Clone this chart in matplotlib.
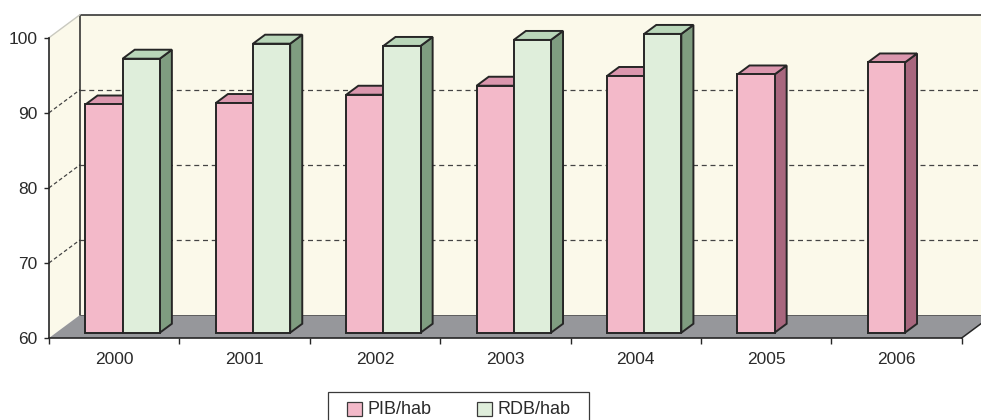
import numpy as np
import matplotlib.pyplot as plt
from matplotlib.patches import Polygon, Rectangle

plt.rcParams['font.family'] = ['Liberation Sans', 'DejaVu Sans']

years = ['2000', '2001', '2002', '2003', '2004', '2005', '2006']
pib_hab = [90.4, 90.6, 91.7, 92.9, 94.2, 94.4, 96.0]
rdb_hab = [96.5, 98.5, 98.2, 99.0, 99.8, np.nan, np.nan]
series_names = ['PIB/hab', 'RDB/hab']

y_min, y_max = 60, 100
y_ticks = [60, 70, 80, 90, 100]

# colours: front, top, side
pink = ('#f3b9c9', '#db97ae', '#a8677e')
green = ('#dfeedb', '#b9d6b9', '#7f9d80')
wall_col = '#fbf9ea'
floor_col = '#96979b'
edge_col = '#262626'
text_col = '#2a2a2a'

W, H = 981, 420
fig = plt.figure(figsize=(W / 100, H / 100), dpi=100)
ax = fig.add_axes([49 / W, 1 - 338 / H, 912.7 / W, 300.3 / H])
ax.set_xlim(0, len(years))
ax.set_ylim(y_min, y_max)
ax.patch.set_visible(False)

# depth offset of the back wall, in data units
DX = 31 / 130.4
DY = 23 / 7.5075
n = len(years)


def shift(pts, d):
    return [(x + d * DX, y + d * DY) for x, y in pts]


def poly(pts, fc, ec='none', lw=0, z=1):
    p = Polygon(pts, closed=True, facecolor=fc, edgecolor=ec, linewidth=lw,
                zorder=z, clip_on=False, joinstyle='miter')
    ax.add_patch(p)
    return p


# back wall
poly([(DX, y_min + DY), (n + DX, y_min + DY), (n + DX, y_max + DY), (DX, y_max + DY)],
     wall_col, z=0.5)
ax.plot([DX, DX, n + DX], [y_min + DY, y_max + DY, y_max + DY], color=edge_col,
        lw=1.1, clip_on=False, zorder=0.9)

# side wall
poly([(0, y_min), (DX, y_min + DY), (DX, y_max + DY), (0, y_max)], wall_col, z=0.5)
ax.plot([0, DX], [y_max, y_max + DY], color='#c9c9c0', lw=1.0, clip_on=False, zorder=0.9)

# gridlines on both walls
for v in y_ticks[1:-1]:
    ax.plot([DX, n + DX], [v + DY, v + DY], color='#444444', lw=0.9,
            ls=(0, (4, 3)), clip_on=False, zorder=0.8)
    ax.plot([0, DX], [v, v + DY], color='#444444', lw=0.9,
            ls=(0, (3, 2)), clip_on=False, zorder=0.8)

# floor
poly([(0, y_min), (n, y_min), (n + DX, y_min + DY), (DX, y_min + DY)], floor_col, z=0.95)
ax.plot([DX, n + DX], [y_min + DY, y_min + DY], color='#555555', lw=0.6,
        clip_on=False, zorder=0.96)
ax.plot([n, n + DX], [y_min, y_min + DY], color=edge_col, lw=1.1,
        clip_on=False, zorder=0.97)

# 3D bars
d0, d1 = 0.23, 0.62
bw = 0.285
center = 0.51


def bar3d(x0, v, cols, z):
    base = y_min
    ddx, ddy = (d1 - d0) * DX, (d1 - d0) * DY
    front = [(x0, base), (x0 + bw, base), (x0 + bw, v), (x0, v)]
    top = [(x0, v), (x0 + bw, v), (x0 + bw + ddx, v + ddy), (x0 + ddx, v + ddy)]
    side = [(x0 + bw, base), (x0 + bw + ddx, base + ddy),
            (x0 + bw + ddx, v + ddy), (x0 + bw, v)]
    poly(shift(side, d0), cols[2], edge_col, 1.4, z)
    poly(shift(top, d0), cols[1], edge_col, 1.4, z)
    poly(shift(front, d0), cols[0], edge_col, 1.4, z)


z = 2
for i in range(n):
    for j, (vals, cols) in enumerate([(pib_hab, pink), (rdb_hab, green)]):
        v = vals[i]
        if np.isnan(v):
            continue
        bar3d(i + center - bw + j * bw, v, cols, z)
        z += 0.01

# axes and ticks
for s in ['top', 'right']:
    ax.spines[s].set_visible(False)
for s in ['left', 'bottom']:
    ax.spines[s].set_color(edge_col)
    ax.spines[s].set_linewidth(1.2)

ax.set_yticks(y_ticks)
ax.set_yticklabels([str(t) for t in y_ticks])
ax.tick_params(axis='y', direction='out', length=3.5, width=1.0, color=edge_col,
               pad=5, labelsize=12.5, labelcolor=text_col)
ax.set_xticks(np.arange(n + 1))
ax.set_xticklabels([])
ax.set_xticks(np.arange(n) + 0.5, minor=True)
ax.set_xticklabels(years, minor=True)
ax.tick_params(axis='x', which='major', direction='out', length=4.5, width=1.0,
               color=edge_col)
ax.tick_params(axis='x', which='minor', length=0, pad=10, labelsize=12.5,
               labelcolor=text_col)


# legend box at the bottom, partly below the figure edge
def fx(p):
    return p / W


def fy(p):
    return 1 - p / H


fig.patches.append(Rectangle((fx(328.3), fy(430)), fx(588.7) - fx(328.3),
                             fy(392.3) - fy(430), transform=fig.transFigure,
                             facecolor='white', edgecolor='#3a3a3a', linewidth=0.9))
for name, cols, px0 in zip(series_names, [pink, green], [346.7, 476.7]):
    fig.patches.append(Rectangle((fx(px0), fy(416)), fx(15), 14 / H,
                                 transform=fig.transFigure, facecolor=cols[0],
                                 edgecolor='#3a3a3a', linewidth=0.9))
    fig.text(fx(px0 + 21), fy(409), name, fontsize=13, color=text_col,
             va='center', ha='left')

fig.savefig('out.png', dpi=100)
